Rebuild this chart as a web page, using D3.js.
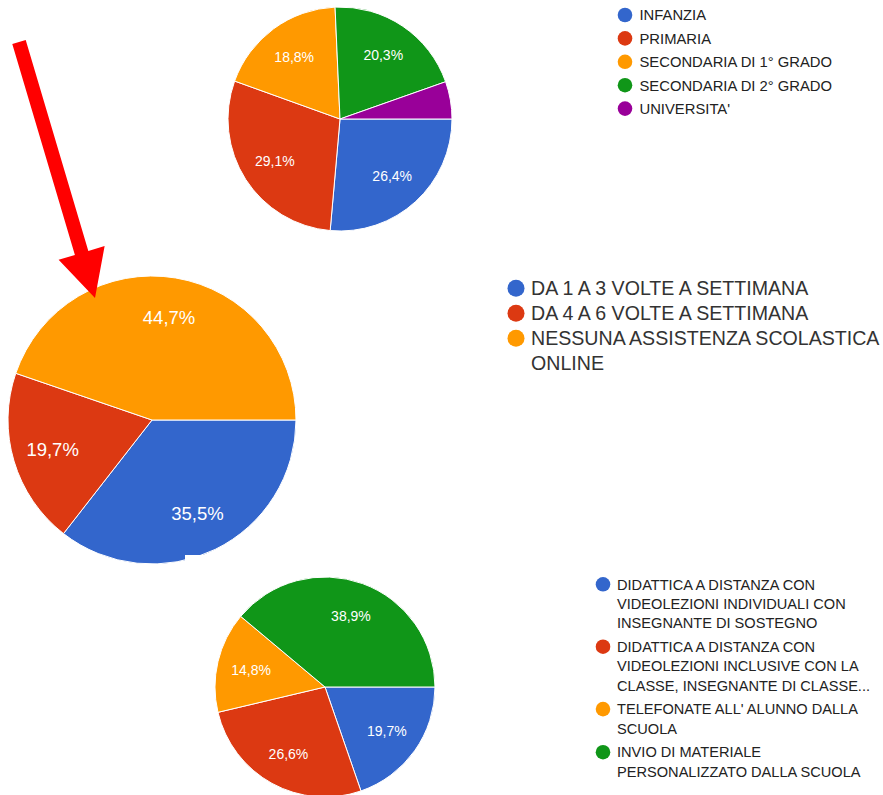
<!DOCTYPE html>
<html>
<head>
<meta charset="utf-8">
<script src="https://cdn.jsdelivr.net/npm/d3@7"></script>
<style>
  body { margin: 0; background: #fff; }
  text { font-family: Arial, "Liberation Sans", sans-serif; }
</style>
</head>
<body>
<svg id="chart"></svg>
<script>
// colori google charts
const colors = ["#3366cc", "#dc3912", "#ff9900", "#109618", "#990099"];

// grafico 1 - ordine di scuola
const scuole = [
  ["INFANZIA"],
  ["PRIMARIA"],
  ["SECONDARIA DI 1° GRADO"],
  ["SECONDARIA DI 2° GRADO"],
  ["UNIVERSITA'"]
];
const scuoleVal = [26.4, 29.1, 18.8, 20.3, 5.4];

// grafico 2 - frequenza
const frequenza = [
  ["DA 1 A 3 VOLTE A SETTIMANA"],
  ["DA 4 A 6 VOLTE A SETTIMANA"],
  ["NESSUNA ASSISTENZA SCOLASTICA", "ONLINE"]
];
const frequenzaVal = [35.5, 19.7, 44.7];

// grafico 3 - tipo di assistenza
const assistenza = [
  ["DIDATTICA A DISTANZA CON", "VIDEOLEZIONI INDIVIDUALI CON", "INSEGNANTE DI SOSTEGNO"],
  ["DIDATTICA A DISTANZA CON", "VIDEOLEZIONI INCLUSIVE CON LA", "CLASSE, INSEGNANTE DI CLASSE..."],
  ["TELEFONATE ALL' ALUNNO DALLA", "SCUOLA"],
  ["INVIO DI MATERIALE", "PERSONALIZZATO DALLA SCUOLA"]
];
const assistenzaVal = [19.7, 26.6, 14.8, 38.9];

const width = 883, height = 795;

const svg = d3.select("#chart")
  .attr("width", width)
  .attr("height", height);

svg.append("rect")
  .attr("width", width)
  .attr("height", height)
  .attr("fill", "#fff");

//Funzione per disegnare una torta
function drawPie(values, cx, cy, r, fontSize, labelPos) {
  const pie = d3.pie().sort(null)
    .startAngle(Math.PI / 2)
    .endAngle(Math.PI / 2 + 2 * Math.PI);
  const arc = d3.arc().innerRadius(0).outerRadius(r);
  const labelArc = d3.arc().innerRadius(r * labelPos).outerRadius(r * labelPos);
  const fmt = v => d3.format(".1f")(v).replace(".", ",") + "%";

  const g = svg.append("g").attr("transform", `translate(${cx},${cy})`);
  const arcs = pie(values);

  g.selectAll("path")
    .data(arcs)
    .enter()
    .append("path")
      .attr("d", arc)
      .attr("fill", (d, i) => colors[i])
      .attr("stroke", "#fff")
      .attr("stroke-width", 1);

  g.selectAll("text")
    .data(arcs.filter(d => d.value >= 8))
    .enter()
    .append("text")
      .attr("transform", d => `translate(${labelArc.centroid(d)})`)
      .attr("text-anchor", "middle")
      .attr("dy", "0.36em")
      .attr("fill", "#fff")
      .style("font-size", fontSize + "px")
      .text(d => fmt(d.value));
  return g;
}

//Funzione per la legenda
function drawLegend(items, x, y, opt) {
  const g = svg.append("g");
  let cy = y;
  items.forEach((lines, i) => {
    g.append("circle")
      .attr("cx", x)
      .attr("cy", cy)
      .attr("r", opt.r)
      .attr("fill", colors[i]);
    const t = g.append("text")
      .attr("x", x + opt.dx)
      .attr("y", cy)
      .attr("fill", opt.color)
      .style("font-size", opt.size + "px");
    lines.forEach((l, j) => {
      t.append("tspan")
        .attr("x", x + opt.dx)
        .attr("y", cy + j * opt.lh)
        .attr("dy", "0.36em")
        .text(l);
    });
    cy += lines.length * opt.lh + opt.gap;
  });
}

// torta 1
drawPie(scuoleVal, 340, 119, 112, 14, 0.69);
drawLegend(scuole, 625, 15, { r: 7.3, dx: 14.5, size: 14.8, lh: 23.4, gap: 0, color: "#222" });

// torta 2
drawPie(frequenzaVal, 152, 420, 144, 18.5, 0.72);
drawLegend(frequenza, 516, 288.3, { r: 8.5, dx: 15, size: 19.6, lh: 24.4, gap: 0.6, color: "#333" });

// pezzo bianco sopra la torta 2
svg.append("rect")
  .attr("x", 185).attr("y", 555)
  .attr("width", 60).attr("height", 15)
  .attr("fill", "#fff");

// torta 3
drawPie(assistenzaVal, 325, 687, 110, 14, 0.69);
drawLegend(assistenza, 603, 584.3, { r: 7.3, dx: 14, size: 14.6, lh: 19.3, gap: 4.5, color: "#222" });

// freccia rossa
const start = [19, 42], tip = [95, 298];
const len = Math.hypot(tip[0] - start[0], tip[1] - start[1]);
const ang = Math.atan2(tip[1] - start[1], tip[0] - start[0]) * 180 / Math.PI;
const headL = 47, headW = 48, shaftW = 14;
svg.append("path")
  .attr("transform", `translate(${start}) rotate(${ang})`)
  .attr("d", `M0,${-shaftW / 2} L${len - headL},${-shaftW / 2} L${len - headL},${-headW / 2}
              L${len},0 L${len - headL},${headW / 2} L${len - headL},${shaftW / 2} L0,${shaftW / 2} Z`)
  .attr("fill", "#ff0000");
</script>
</body>
</html>
